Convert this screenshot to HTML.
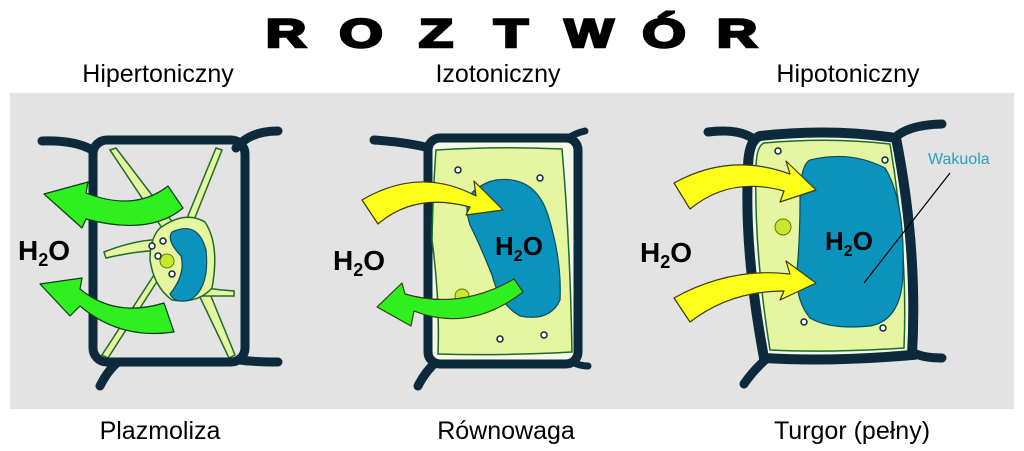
<!DOCTYPE html>
<html><head><meta charset="utf-8"><style>
html,body{margin:0;padding:0;background:#fff;}
svg{display:block;}
text{font-family:"Liberation Sans",sans-serif;}
</style></head><body>
<svg width="1024" height="451" viewBox="0 0 1024 451" xmlns="http://www.w3.org/2000/svg">
<rect width="1024" height="451" fill="#fff"/>
<!-- title -->
<g font-weight="bold" font-size="40" fill="#000" stroke="#000" stroke-width="2.5" text-anchor="middle">
<text transform="translate(286,47) scale(1.4,1)">R</text>
<text transform="translate(361,47) scale(1.4,1)">O</text>
<text transform="translate(436,47) scale(1.4,1)">Z</text>
<text transform="translate(511,47) scale(1.4,1)">T</text>
<text transform="translate(589,47) scale(1.3,1)">W</text>
<text transform="translate(664,47) scale(1.4,1)">Ó</text>
<text transform="translate(737,47) scale(1.4,1)">R</text>
</g>
<g font-size="25" fill="#000" text-anchor="middle">
<text x="158" y="82">Hipertoniczny</text>
<text x="498" y="82">Izotoniczny</text>
<text x="848" y="82">Hipotoniczny</text>
<text x="160" y="439">Plazmoliza</text>
<text x="506" y="439">Równowaga</text>
<text x="852" y="439">Turgor (pełny)</text>
</g>
<rect x="10" y="93" width="1004" height="316" fill="#e3e3e3"/>

<!-- ===== Panel 1 ===== -->
<g fill="none" stroke="#0d2a3d" stroke-linecap="round">
<path d="M42,141 Q75,140 92,150" stroke-width="9"/>
<path d="M236,148 Q250,131 278,131" stroke-width="9"/>
<path d="M240,360 Q255,362 278,362" stroke-width="9"/>
<path d="M100,386 Q108,370 118,362" stroke-width="9"/>
</g>
<g fill="#e6f5a0" stroke="#1e6b2a" stroke-width="1.5">
<path d="M110,150 L116,148 L190,245 L235,355 L229,358 L180,255 Z"/>
<path d="M216,148 L222,150 L190,230 L108,358 L102,355 L180,235 Z"/>
<path d="M104,252 Q140,238 165,240 L170,250 Q140,250 106,258 Z"/>
<path d="M205,288 Q220,290 234,291 L234,296 Q218,296 200,296 Z"/>
<path d="M160,228 Q185,210 205,222 Q220,245 212,288 Q198,304 172,300 Q154,287 150,260 Q150,238 160,228 Z"/>
</g>
<path d="M172,232 Q198,220 206,250 Q210,288 190,300 Q175,304 170,294 Q186,274 181,256 Q166,240 172,232 Z" fill="#0a94bd" stroke="#0d4a5e" stroke-width="1.2"/>
<circle cx="167" cy="261" r="7" fill="#c9e82a" stroke="#5a7a10" stroke-width="1"/>
<g fill="#fff" stroke="#0d2a3d" stroke-width="1.5">
<circle cx="152" cy="246" r="3"/><circle cx="163" cy="241" r="3"/><circle cx="158" cy="256" r="3"/><circle cx="172" cy="274" r="3"/>
</g>
<rect x="93" y="140" width="152" height="222" rx="14" fill="none" stroke="#0d2a3d" stroke-width="9"/>
<g fill="#2fef1f" stroke="#0c3a1a" stroke-width="1.2" stroke-linejoin="round">
<path d="M168,186 L183,208 Q150,236 86,219 L82,228 L44,194 L88,182 L86,193 Q135,212 168,186 Z"/>
<path d="M164,303 L174,332 Q120,340 80,306 L70,316 L40,284 L82,278 L80,289 Q115,318 164,303 Z"/>
</g>
<text x="18" y="260" font-size="28" font-weight="bold" fill="#000">H<tspan font-size="18" dy="6">2</tspan><tspan dy="-6">O</tspan></text>

<!-- ===== Panel 2 ===== -->
<g fill="none" stroke="#0d2a3d" stroke-linecap="round">
<path d="M374,140 Q405,142 430,148" stroke-width="9"/>
<path d="M565,140 Q575,133 585,131" stroke-width="7"/>
<path d="M572,362 Q580,366 588,366" stroke-width="7"/>
<path d="M436,362 Q425,372 418,386" stroke-width="9"/>
</g>
<rect x="428" y="138" width="150" height="226" rx="12" fill="#f4f8e8" stroke="#0d2a3d" stroke-width="9"/>
<path d="M436,150 Q500,146 562,149 Q570,240 572,352 Q500,356 438,354 Q440,300 432,240 Q433,190 436,150 Z" fill="#e6f5a0" stroke="#1e6b2a" stroke-width="1.5"/>
<path d="M496,180 Q535,175 548,215 Q562,260 560,300 Q550,322 520,316 Q500,305 492,275 Q480,245 470,225 Q462,200 475,190 Q485,182 496,180 Z" fill="#0a94bd" stroke="#0d4a5e" stroke-width="1.2"/>
<circle cx="462" cy="296" r="7" fill="#c9e82a" stroke="#5a7a10" stroke-width="1"/>
<g fill="#fff" stroke="#0d2a3d" stroke-width="1.5">
<circle cx="458" cy="170" r="3"/><circle cx="540" cy="178" r="3"/><circle cx="500" cy="339" r="3"/><circle cx="544" cy="335" r="3"/>
</g>
<g stroke="#3a3a10" stroke-width="1.2" stroke-linejoin="round">
<path d="M362,200 Q420,166 476,196 L474,181 L503,210 L466,215 L470,207 Q415,192 378,224 Z" fill="#ffff1a"/>
<path d="M514,279 L523,292 Q470,333 414,311 L411,326 L377,307 L402,283 L405,294 Q460,310 514,279 Z" fill="#2fef1f"/>
</g>
<text x="495" y="255" font-size="26" font-weight="bold" fill="#000">H<tspan font-size="16" dy="6">2</tspan><tspan dy="-6">O</tspan></text>
<text x="333" y="270" font-size="28" font-weight="bold" fill="#000">H<tspan font-size="18" dy="6">2</tspan><tspan dy="-6">O</tspan></text>

<!-- ===== Panel 3 ===== -->
<g fill="none" stroke="#0d2a3d" stroke-linecap="round">
<path d="M708,132 Q740,128 755,140" stroke-width="9"/>
<path d="M893,140 Q905,125 942,124" stroke-width="9"/>
<path d="M912,352 Q922,358 942,358" stroke-width="9"/>
<path d="M765,360 Q752,372 744,384" stroke-width="9"/>
</g>
<path d="M760,136 Q830,128 896,138 Q918,250 912,355 Q830,362 764,358 Q744,250 748,170 Q748,140 760,136 Z" fill="#f4f8e8" stroke="#0d2a3d" stroke-width="10"/>
<path d="M764,143 Q830,137 890,144 Q908,250 904,348 Q830,353 770,350 Q754,250 756,170 Q756,146 764,143 Z" fill="#e6f5a0" stroke="#1e6b2a" stroke-width="1.5"/>
<path d="M810,160 Q850,150 885,168 Q905,200 903,270 Q903,320 870,326 Q830,330 810,318 Q795,300 797,270 Q800,240 800,200 Q800,165 810,160 Z" fill="#0a94bd" stroke="#0d4a5e" stroke-width="1.2"/>
<circle cx="783" cy="227" r="8" fill="#c9e82a" stroke="#5a7a10" stroke-width="1"/>
<g fill="#fff" stroke="#0d2a3d" stroke-width="1.5">
<circle cx="778" cy="151" r="3"/><circle cx="885" cy="160" r="3"/><circle cx="804" cy="322" r="3"/><circle cx="883" cy="328" r="3"/>
</g>
<g fill="#ffff1a" stroke="#3a3a10" stroke-width="1.2" stroke-linejoin="round">
<path d="M674,183 Q730,152 790,174 L786,161 L816,190 L780,202 L784,191 Q730,176 690,209 Z"/>
<path d="M674,298 Q730,267 790,274 L786,261 L816,283 L780,300 L784,291 Q730,291 690,322 Z"/>
</g>
<line x1="950" y1="173" x2="864" y2="283" stroke="#000" stroke-width="1.2"/>
<text x="928" y="164" font-size="16" fill="#2a9fc0">Wakuola</text>
<text x="825" y="250" font-size="26" font-weight="bold" fill="#000">H<tspan font-size="16" dy="6">2</tspan><tspan dy="-6">O</tspan></text>
<text x="640" y="262" font-size="28" font-weight="bold" fill="#000">H<tspan font-size="18" dy="6">2</tspan><tspan dy="-6">O</tspan></text>
</svg>
</body></html>
